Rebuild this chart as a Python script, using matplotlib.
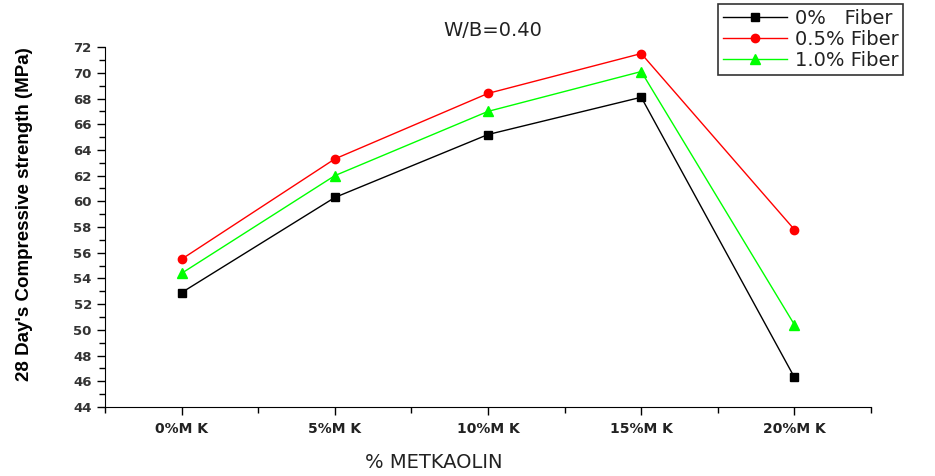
import matplotlib
matplotlib.use("Agg")
from matplotlib import pyplot as plt
from matplotlib.ticker import MultipleLocator

plt.rcParams['font.family'] = ['DejaVu Sans']

categories = ['0%M K', '5%M K', '10%M K', '15%M K', '20%M K']
fiber_0 = [52.9, 60.3, 65.2, 68.1, 46.3]
fiber_05 = [55.5, 63.3, 68.4, 71.5, 57.8]
fiber_10 = [54.4, 62.0, 67.0, 70.1, 50.4]
labels = ['0%   Fiber', '0.5% Fiber', '1.0% Fiber']

fig = plt.figure(figsize=(9.35, 4.76), dpi=100)
ax = fig.add_axes([0.1123, 0.145, 0.8193, 0.756])

x = list(range(len(categories)))
l1, = ax.plot(x, fiber_0, color='black', marker='s', markersize=6, lw=1)
l2, = ax.plot(x, fiber_05, color='red', marker='o', markersize=6, lw=1)
l3, = ax.plot(x, fiber_10, color='#00ff00', marker='^', markersize=7, lw=1)

ax.set_xlim(-0.5, 4.5)
ax.set_ylim(44, 72)
ax.set_xticks(x)
ax.set_xticklabels(categories, fontsize=10, color='#222222', fontweight='bold')
ax.set_xticks([-0.5, 0.5, 1.5, 2.5, 3.5, 4.5], minor=True)
ax.yaxis.set_major_locator(MultipleLocator(2))
ax.yaxis.set_minor_locator(MultipleLocator(1))
for lab in ax.get_yticklabels():
    lab.set_fontsize(9.5)
    lab.set_fontweight('bold')
    lab.set_color('#333333')
ax.tick_params(axis='both', which='major', direction='out', length=6, width=1)
ax.tick_params(axis='both', which='minor', direction='out', length=4, width=1)
ax.tick_params(axis='x', pad=5)

ax.spines['top'].set_visible(False)
ax.spines['right'].set_visible(False)

# y label sits well left of the tick labels in the original
fig.text(25 / 935, 1 - 214 / 476, "28 Day's Compressive strength (MPa)",
         rotation=90, ha='center', va='center', fontsize=13.5, fontweight='bold',
         family=['Liberation Sans Narrow', 'Liberation Sans', 'DejaVu Sans'])
fig.text(434 / 935, 1 - 462 / 476, '% METKAOLIN', ha='center', va='center',
         fontsize=14, color='#222222')
fig.text(493 / 935, 1 - 31 / 476, 'W/B=0.40', ha='center', va='center',
         fontsize=14, color='#222222')

leg = fig.legend([l1, l2, l3], labels, loc='upper left',
                 bbox_to_anchor=(718 / 935, 1 - 4 / 476), fontsize=14,
                 frameon=True, fancybox=False, edgecolor='black',
                 handlelength=3.3, borderpad=0.25, labelspacing=0.1,
                 handletextpad=0.4, borderaxespad=0)
leg.get_frame().set_linewidth(1.2)
for t in leg.get_texts():
    t.set_color('#222222')

fig.savefig('out.png', dpi=100)
